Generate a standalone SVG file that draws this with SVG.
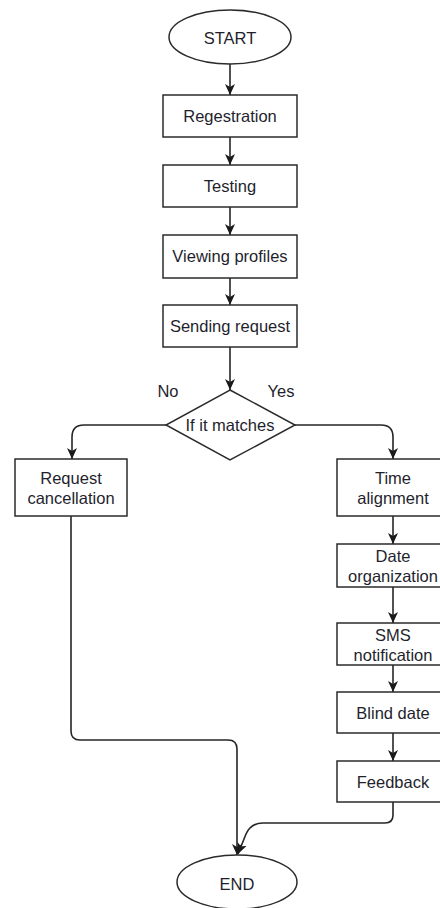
<svg xmlns="http://www.w3.org/2000/svg" width="440" height="908" viewBox="0 0 440 908">
  <defs>
    <marker id="arrow" markerUnits="userSpaceOnUse" markerWidth="12" markerHeight="12" viewBox="0 0 12 12" refX="11" refY="6" orient="auto">
      <path d="M0,1 L11,6 L0,11 L3,6 z" fill="#1a1a1a"/>
    </marker>
    <style>
      .shape { fill: #ffffff; stroke: #2b2b2b; stroke-width: 1.5; }
      .label { font-family: "Liberation Sans", Arial, sans-serif; font-size: 16.5px; fill: #1f1f2e; text-anchor: middle; dominant-baseline: central; }
      .edge { fill: none; stroke: #262626; stroke-width: 1.6; marker-end: url(#arrow); }
    </style>
  </defs>
  <rect width="440" height="908" fill="#ffffff"/>

  <g id="connectors">
    <path class="edge" d="M230,64 V95"/>
    <path class="edge" d="M230,137 V165"/>
    <path class="edge" d="M230,207 V235"/>
    <path class="edge" d="M230,278 V305"/>
    <path class="edge" d="M230,347 V390"/>
    <path class="edge" d="M166,425 H84 Q72,425 72,437 V459"/>
    <path class="edge" d="M295,425 H381 Q393,425 393,437 V459"/>
    <path class="edge" d="M393,516 V544"/>
    <path class="edge" d="M393,587 V623"/>
    <path class="edge" d="M393,665 V692"/>
    <path class="edge" d="M393,733 V761"/>
    <path class="edge" d="M71,516 V731 Q71,740 80,740 H228 Q237,740 237,749 V855"/>
    <path class="edge" d="M393,802 V815 Q393,823 385,823 H263 Q251,823 246,834 L238,854"/>
  </g>

  <g id="start">
    <ellipse class="shape" cx="230" cy="37" rx="61" ry="27"/>
    <text class="label" x="230" y="38">START</text>
  </g>
  <g id="registration">
    <rect class="shape" x="163" y="95" width="134" height="42"/>
    <text class="label" x="230" y="116">Regestration</text>
  </g>
  <g id="testing">
    <rect class="shape" x="163" y="165" width="134" height="42"/>
    <text class="label" x="230" y="186">Testing</text>
  </g>
  <g id="viewing-profiles">
    <rect class="shape" x="163" y="235" width="134" height="43"/>
    <text class="label" x="230" y="256">Viewing profiles</text>
  </g>
  <g id="sending-request">
    <rect class="shape" x="163" y="305" width="134" height="42"/>
    <text class="label" x="230" y="326">Sending request</text>
  </g>
  <g id="match-decision">
    <polygon class="shape" points="230,390 295,425 230,460 166,425"/>
    <text class="label" x="230" y="425">If it matches</text>
    <text class="label" x="168" y="391">No</text>
    <text class="label" x="281" y="391">Yes</text>
  </g>
  <g id="request-cancellation">
    <rect class="shape" x="15" y="459" width="112" height="57"/>
    <text class="label" x="71" y="478">Request</text>
    <text class="label" x="71" y="498">cancellation</text>
  </g>
  <g id="time-alignment">
    <rect class="shape" x="337" y="459" width="112" height="57"/>
    <text class="label" x="393" y="478">Time</text>
    <text class="label" x="393" y="498">alignment</text>
  </g>
  <g id="date-organization">
    <rect class="shape" x="337" y="544" width="112" height="43"/>
    <text class="label" x="393" y="556">Date</text>
    <text class="label" x="393" y="576">organization</text>
  </g>
  <g id="sms-notification">
    <rect class="shape" x="337" y="623" width="112" height="42"/>
    <text class="label" x="393" y="635">SMS</text>
    <text class="label" x="393" y="655">notification</text>
  </g>
  <g id="blind-date">
    <rect class="shape" x="337" y="692" width="112" height="41"/>
    <text class="label" x="393" y="713">Blind date</text>
  </g>
  <g id="feedback">
    <rect class="shape" x="337" y="761" width="112" height="41"/>
    <text class="label" x="393" y="782">Feedback</text>
  </g>
  <g id="end">
    <ellipse class="shape" cx="237" cy="882" rx="60" ry="27"/>
    <text class="label" x="237" y="884">END</text>
  </g>
</svg>
